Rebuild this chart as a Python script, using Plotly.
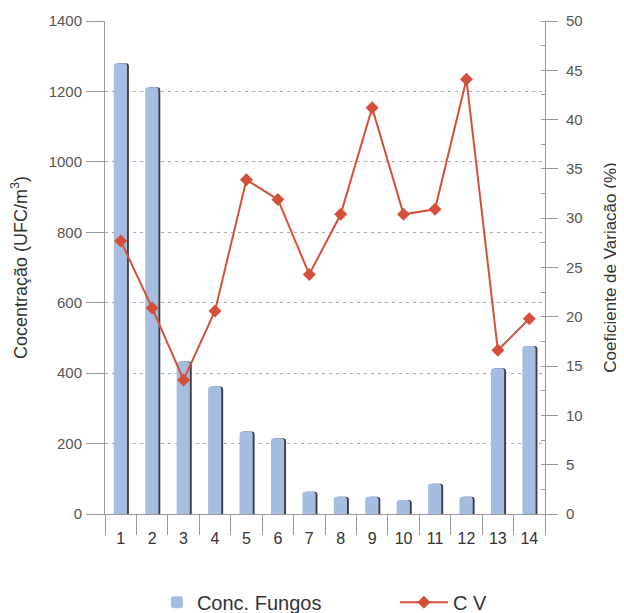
import plotly.graph_objects as go

categories = [str(i) for i in range(1, 15)]
conc_fungos = [1280, 1212, 433, 362, 234, 215, 63, 49, 49, 40, 86, 49, 414, 477]
cv = [27.7, 20.9, 13.6, 20.6, 33.9, 31.9, 24.3, 30.4, 41.2, 30.4, 30.9, 44.1, 16.6, 19.8]

BAR_COLOR = "#a4bde0"
LINE_COLOR = "#d4503a"
FONT = "Liberation Sans"

fig = go.Figure()

# shadow of bars (3D look)
fig.add_trace(go.Bar(
    x=categories, y=conc_fungos, width=0.42, offset=-0.16,
    marker=dict(color="#3a3f48", line=dict(width=0), cornerradius=3),
    showlegend=False, hoverinfo="skip", yaxis="y"))
fig.add_trace(go.Bar(
    x=categories, y=conc_fungos, width=0.42, offset=-0.22,
    name="Conc. Fungos", legend="legend",
    marker=dict(color=BAR_COLOR, line=dict(width=0), cornerradius=3),
    yaxis="y"))
fig.add_trace(go.Scatter(
    x=categories, y=cv, name="C V", mode="lines+markers", legend="legend2",
    line=dict(color=LINE_COLOR, width=2),
    marker=dict(symbol="diamond", size=10, color=LINE_COLOR),
    yaxis="y2"))

fig.update_layout(
    width=616, height=605,
    margin=dict(l=97, r=79, t=13, b=99, autoexpand=False),
    paper_bgcolor="white", plot_bgcolor="white",
    barmode="overlay",
    font=dict(family=FONT, color="#444", size=14),
    xaxis=dict(
        type="category", range=[-0.5, 13.5],
        showline=True, linecolor="#999", linewidth=1,
        ticks="outside", tickson="boundaries", ticklen=20, tickcolor="#999",
        ticklabelstandoff=10,
        tickfont=dict(size=16, color="#333"), showgrid=False, zeroline=False),
    yaxis=dict(
        range=[0, 1400], dtick=200,
        showline=True, linecolor="#999", linewidth=1,
        ticks="outside", ticklen=18, tickcolor="#999",
        ticklabelstandoff=1,
        tickfont=dict(size=15, color="#555"),
        showgrid=True, gridcolor="#aaaaaa", griddash="3px,4px", gridwidth=1,
        zeroline=False, automargin=False,
        title=dict(text="Cocentração (UFC/m<sup>3</sup>)", font=dict(size=18, color="#333"), standoff=20)),
    yaxis2=dict(
        range=[0, 50], dtick=5, overlaying="y", side="right",
        showline=True, linecolor="#999", linewidth=1,
        ticks="outside", ticklen=12, tickcolor="#999",
        ticklabelstandoff=5,
        minor=dict(dtick=2.5, ticks="inside", ticklen=4, tickcolor="#999"),
        tickfont=dict(size=15, color="#555"),
        showgrid=False, zeroline=False, automargin=False,
        title=dict(text="Coeficiente de Variação (%)", font=dict(size=17, color="#333"), standoff=22)),
    legend=dict(
        orientation="h", x=0.118, xanchor="left", y=-0.179, yanchor="middle",
        font=dict(size=20, color="#333"), itemwidth=30),
    legend2=dict(
        orientation="h", x=0.659, xanchor="left", y=-0.179, yanchor="middle",
        font=dict(size=20, color="#333"), itemwidth=48),
)

fig.write_html("out.html")
